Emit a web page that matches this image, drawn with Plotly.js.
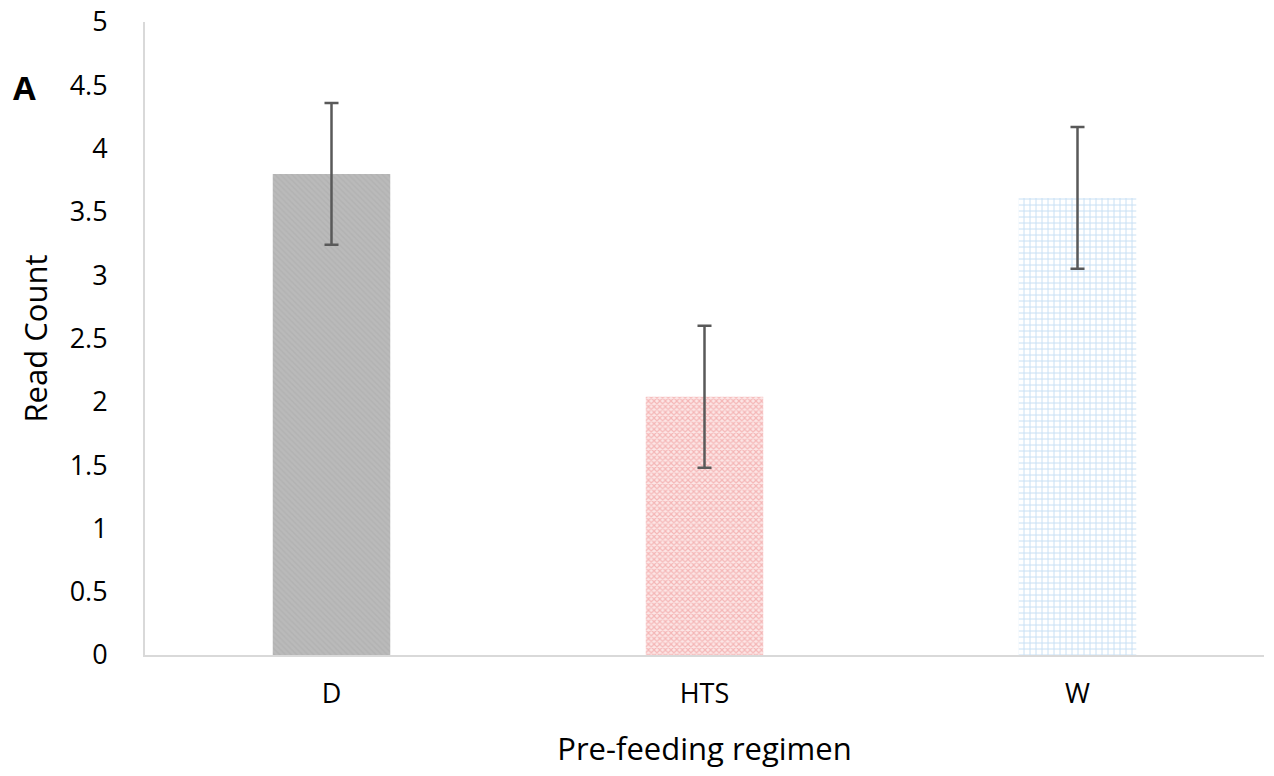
<!DOCTYPE html>
<html><head><meta charset="utf-8">
<script src="https://cdn.plot.ly/plotly-3.0.1.min.js"></script>
<style>html,body{margin:0;padding:0;background:#fff}</style>
</head><body>
<div id="chart" style="width:1274px;height:776px"></div>
<script>
const categories = ["D", "HTS", "W"];
const values = [3.8, 2.04, 3.61];
const errors = [0.56, 0.56, 0.56];
const yTicks = [0, 0.5, 1, 1.5, 2, 2.5, 3, 3.5, 4, 4.5, 5];
const yTickLabels = ["0", "0.5", "1", "1.5", "2", "2.5", "3", "3.5", "4", "4.5", "5"];

const bgColors = ["#bababa", "#fce6e6", "#ffffff"];
const fgColors = ["#a9a9a9", "#ec8585", "#8fc0ea"];
const shapes = ["\\", "x", "+"];
const sizes = [4, 4, 6];
const solidities = [0.35, 0.5, 0.3];

const traces = categories.map((c, i) => ({
  type: "bar",
  x: [c],
  y: [values[i]],
  width: 0.315,
  marker: {
    color: bgColors[i],
    line: {width: 0},
    pattern: {shape: shapes[i], fgcolor: fgColors[i], size: sizes[i], solidity: solidities[i], fillmode: "overlay"}
  },
  error_y: {type: "data", array: [errors[i]], visible: true, color: "#595959", thickness: 2.5, width: 7},
  hoverinfo: "skip"
}));

const layout = {
  width: 1274, height: 776,
  margin: {l: 145, r: 10, t: 22, b: 121},
  paper_bgcolor: "#ffffff", plot_bgcolor: "#ffffff",
  font: {family: "Open Sans, Lato, sans-serif", color: "#000000"},
  showlegend: false,
  barmode: "overlay",
  xaxis: {
    categoryorder: "array", categoryarray: categories,
    showline: true, linecolor: "#d9d9d9", linewidth: 2,
    showgrid: false, zeroline: false, ticks: "",
    tickfont: {size: 27}, ticklabelstandoff: 14,
    title: {text: "Pre-feeding regimen", font: {size: 31}, standoff: 28}
  },
  yaxis: {
    range: [0, 5], tickvals: yTicks, ticktext: yTickLabels,
    showline: true, linecolor: "#d9d9d9", linewidth: 2,
    showgrid: false, zeroline: false, ticks: "",
    tickfont: {size: 27}, ticklabelstandoff: 30,
    title: {text: "Read Count", font: {size: 31}, standoff: 13}
  },
  annotations: [{
    text: "<b>A</b>", xref: "paper", yref: "paper", x: -0.108, y: 0.897,
    xanchor: "center", yanchor: "middle", showarrow: false,
    font: {size: 33, family: "Open Sans, sans-serif", color: "#000"}
  }]
};

Plotly.newPlot("chart", traces, layout, {displayModeBar: false, staticPlot: true});
</script>
</body></html>
